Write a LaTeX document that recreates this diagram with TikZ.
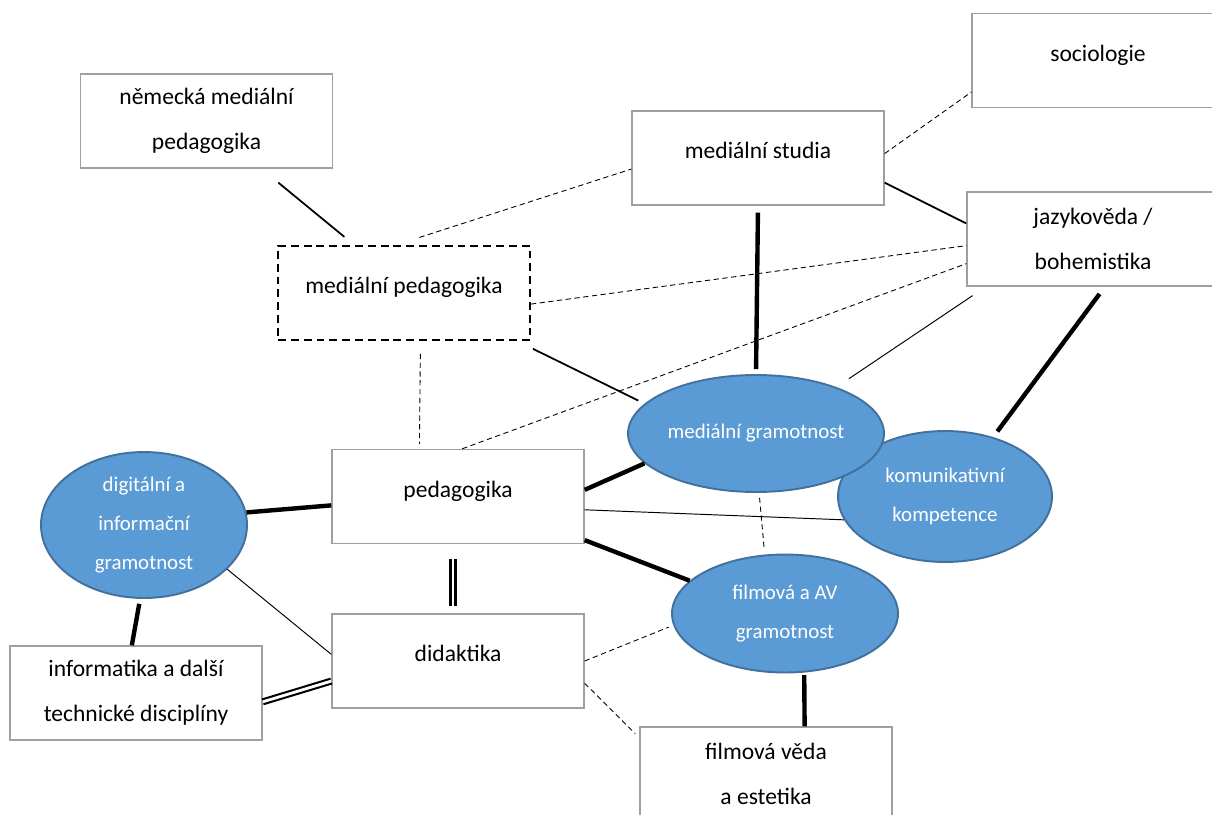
\documentclass[tikz,border=0pt]{standalone}
\usepackage{fontspec}
\setmainfont{Carlito}
\usepackage{tikz}
\usetikzlibrary{shapes.geometric}
\usepackage{xcolor}
\definecolor{gramfill}{HTML}{5B9BD5}
\definecolor{gramline}{HTML}{41719C}
\tikzset{
    box/.style={
        draw=gray!75,
        line width=0.8pt,
        fill=white,
        minimum width=5.04cm,
        minimum height=1.88cm,
        inner sep=0pt,
        align=center,
        font=\fontsize{13.4}{25.5}\selectfont
    },
    oneline/.style={text depth=0.3cm},
    gram/.style={
        ellipse,
        draw=gramline,
        line width=1.1pt,
        fill=gramfill,
        text=white,
        inner sep=0pt,
        align=center,
        font=\fontsize{11.9}{22}\selectfont
    },
    link/.style={line width=1pt},
    fine/.style={line width=0.55pt},
    weak/.style={line width=0.5pt, dash pattern=on 3pt off 2pt},
    strong/.style={line width=2.5pt},
    twin/.style={double, double distance=1.6pt, line width=1.2pt}
}

\begin{document}
\begin{tikzpicture}[x=0.02cm, y=-0.02cm]
    \clip (0,0) rectangle (1212,814);
    % Boxes
    \node[box] (nemecka) at (206.5,121) {německá mediální\\pedagogika};
    \node[box, oneline, draw=black, line width=1pt, dash pattern=on 4.5pt off 2.8pt] (medped) at (404,293) {mediální pedagogika};
    \node[box, oneline] (medstud) at (758,158) {mediální studia};
    \node[box, oneline] (socio) at (1098,60.5) {sociologie};
    \node[box] (jazyk) at (1093,239) {jazykověda /\\bohemistika};
    \node[box, oneline] (pedag) at (458,496.5) {pedagogika};
    \node[box, oneline] (didak) at (458,661) {didaktika};
    \node[box] (inform) at (136,693) {informatika a další\\technické disciplíny};
    \node[box] (filmveda) at (766,774) {filmová věda\\a estetika};

    % Literacies
    \node[gram, minimum width=4.12cm, minimum height=2.92cm] (digit) at (144,525) {digitální a\\informační\\gramotnost};
    \node[gram, minimum width=4.28cm, minimum height=2.62cm] (komun) at (945,496.5) {komunikativní\\kompetence};
    \node[gram, minimum width=5.12cm, minimum height=2.34cm] (medgram) at (756,433.5) {mediální gramotnost};
    \node[gram, minimum width=4.52cm, minimum height=2.36cm] (filmav) at (785,613.5) {filmová a AV\\gramotnost};

    % Edges
    \draw[link, shorten <=0.44cm, shorten >=0.26cm] (nemecka.319) -- (medped.136);
    \draw[link] (medstud.349) -- (jazyk.173);
    \draw[link, shorten <=0.36cm, shorten >=0.14cm] (medped.337) -- (medgram.165);
    \draw[fine, shorten <=0.32cm, shorten >=0.3cm] (jazyk.204) -- (medgram.30);
    \draw[fine] (pedag.354) -- (komun.193);
    \draw[fine] (digit.332) -- (didak.177);

    \draw[weak, shorten <=0.5cm] (medped.100) -- (medstud.185);
    \draw[weak] (medstud.2) -- (socio.194);
    \draw[weak] (medped.355) -- (jazyk.183);
    \draw[weak] (pedag.85) -- (jazyk.191);
    \draw[weak, shorten <=0.26cm, shorten >=0.1cm] (medped.289) -- (pedag.129);
    \draw[weak, shorten <=0.1cm, shorten >=0.1cm] (medgram.-87) -- (filmav.109);
    \draw[weak, shorten >=0.1cm] (didak.0) -- (filmav.186);
    \draw[weak, shorten >=0.11cm] (didak.350) -- (filmveda.164);

    \draw[strong, shorten <=0.14cm, shorten >=0.1cm] (medstud.south) -- (medgram.north);
    \draw[strong, shorten <=0.18cm, shorten >=0.14cm] (jazyk.284) -- (komun.51);
    \draw[strong] (digit.7) -- (pedag.184);
    \draw[strong] (pedag.3) -- (medgram.195);
    \draw[strong] (pedag.341) -- (filmav.161);
    \draw[strong, shorten <=0.1cm] (digit.267) -- (inform.95);
    \draw[strong, shorten <=0.05cm] (filmav.-72) -- (filmveda.51);

    \draw[twin, shorten <=0.3cm, shorten >=0.14cm] (pedag.264) -- (didak.96);
    \draw[twin] (inform.356) -- (didak.189);
\end{tikzpicture}
\end{document}
